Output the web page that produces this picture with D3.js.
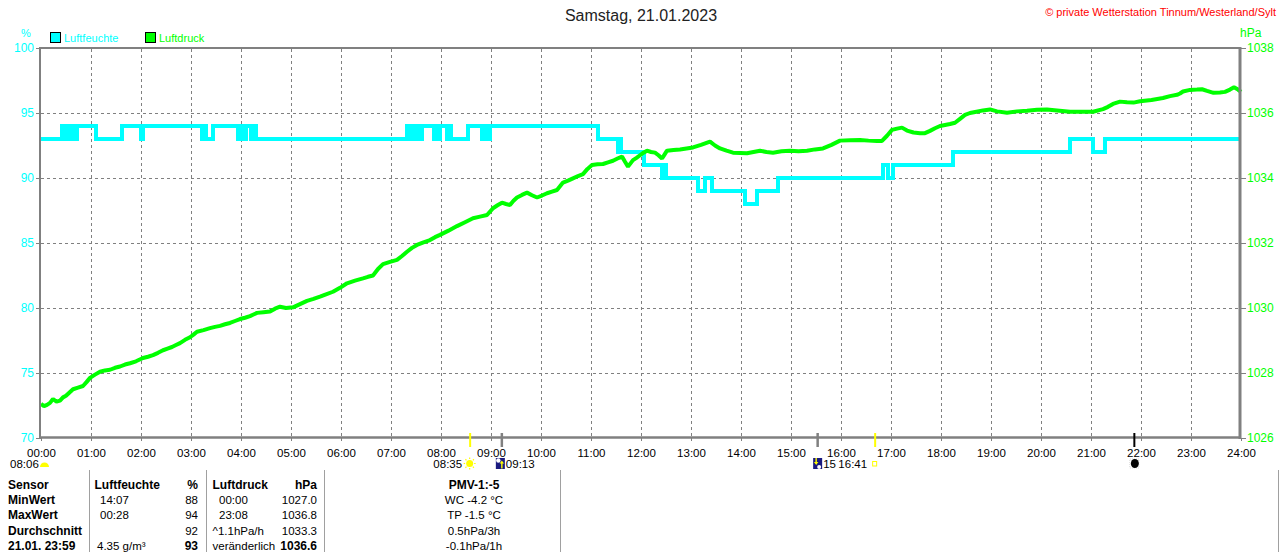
<!DOCTYPE html>
<html><head><meta charset="utf-8">
<script src="https://cdn.jsdelivr.net/npm/d3@7"></script>
<style>
html,body{margin:0;padding:0;background:#fff;}
svg{display:block;font-family:"Liberation Sans",Arial,sans-serif;}
</style></head><body>
<svg id="chart" width="1280" height="552"></svg>
<script>
// ---------- data ----------
const title = "Samstag, 21.01.2023";
const copyright = "© private Wetterstation Tinnum/Westerland/Sylt";
const seriesNames = ["Luftfeuchte", "Luftdruck"];
const seriesUnits = ["%", "hPa"];
const hourTicks = [0,1,2,3,4,5,6,7,8,9,10,11,12,13,14,15,16,17,18,19,20,21,22,23,24];
const hourLabels = ["00:00","01:00","02:00","03:00","04:00","05:00","06:00","07:00","08:00","09:00","10:00","11:00","12:00","13:00","14:00","15:00","16:00","17:00","18:00","19:00","20:00","21:00","22:00","23:00","24:00"];
const humTicks = [70,75,80,85,90,95,100];
const presTicks = [1026,1028,1030,1032,1034,1036,1038];

// Luftfeuchte (%), step values, time in decimal hours
const humTimes = [0,0.42,0.46,0.50,0.54,0.58,0.62,0.66,0.70,0.72,1.10,1.62,2.00,2.04,3.22,3.26,3.30,3.44,3.94,3.98,4.02,4.10,4.20,4.24,4.30,
  7.32,7.35,7.38,7.41,7.44,7.47,7.50,7.58,7.62,7.86,7.90,7.94,7.98,8.12,8.16,8.20,8.54,8.82,8.86,8.90,8.98,
  11.14,11.54,11.57,11.60,11.64,12.06,12.42,12.46,12.50,12.54,13.14,13.28,13.42,13.58,14.08,14.32,14.74,
  16.84,16.94,17.04,18.24,20.58,21.04,21.28,24];
const humValues = [93,94,93,94,93,94,93,94,93,94,93,94,93,94,93,94,93,94,93,94,93,94,93,94,93,
  94,93,94,93,94,93,94,93,94,93,94,93,94,93,94,93,94,93,94,93,94,
  93,92,93,92,92,91,90,91,90,90,89,90,89,89,88,89,90,
  91,90,91,92,93,92,93,93];

// Luftdruck (hPa)
const presTimes = [0,0.06,0.12,0.18,0.24,0.31,0.38,0.44,0.5,0.57,0.64,0.74,0.84,0.91,0.98,1.08,1.18,1.28,1.38,1.48,1.58,1.68,1.78,1.9,2.04,2.14,2.24,2.34,2.44,2.53,2.62,2.7,2.78,2.88,2.98,3.05,3.12,3.25,3.38,3.48,3.58,3.68,3.78,3.88,3.98,4.08,4.18,4.25,4.32,4.45,4.58,4.68,4.78,4.9,5.04,5.18,5.32,5.45,5.58,5.7,5.84,5.98,6.12,6.28,6.44,6.54,6.64,6.74,6.84,6.98,7.12,7.22,7.32,7.42,7.52,7.65,7.78,7.88,7.98,8.15,8.32,8.48,8.64,8.78,8.92,9.04,9.13,9.22,9.3,9.38,9.45,9.52,9.62,9.72,9.82,9.92,10.02,10.12,10.22,10.32,10.44,10.54,10.64,10.74,10.84,10.93,11.02,11.13,11.24,11.34,11.44,11.53,11.62,11.68,11.74,11.79,11.84,11.91,11.98,12.05,12.12,12.2,12.28,12.35,12.42,12.47,12.52,12.65,12.78,12.91,13.04,13.2,13.38,13.48,13.58,13.71,13.84,13.98,14.12,14.25,14.38,14.51,14.64,14.81,14.98,15.15,15.32,15.48,15.64,15.81,15.98,16.18,16.38,16.55,16.72,16.82,16.92,17.02,17.12,17.22,17.32,17.45,17.58,17.68,17.78,17.88,17.98,18.08,18.18,18.28,18.38,18.48,18.58,18.71,18.84,18.98,19.12,19.32,19.52,19.72,19.92,20.12,20.32,20.58,20.84,21.04,21.24,21.34,21.44,21.58,21.72,21.85,21.98,22.21,22.44,22.58,22.72,22.78,22.84,22.98,23.12,23.22,23.32,23.45,23.58,23.68,23.78,23.86,23.94,24];
const presValues = [1027.05,1026.98,1027.02,1027.08,1027.2,1027.12,1027.15,1027.25,1027.3,1027.4,1027.5,1027.55,1027.6,1027.72,1027.85,1027.95,1028.04,1028.08,1028.1,1028.16,1028.2,1028.26,1028.3,1028.36,1028.46,1028.5,1028.55,1028.62,1028.7,1028.75,1028.8,1028.86,1028.92,1029.02,1029.1,1029.18,1029.27,1029.32,1029.38,1029.42,1029.45,1029.5,1029.54,1029.6,1029.66,1029.7,1029.75,1029.8,1029.85,1029.87,1029.89,1029.98,1030.04,1030.0,1030.02,1030.12,1030.22,1030.28,1030.35,1030.42,1030.5,1030.62,1030.76,1030.84,1030.91,1030.96,1031.0,1031.2,1031.35,1031.42,1031.48,1031.6,1031.73,1031.85,1031.94,1032.02,1032.09,1032.18,1032.25,1032.38,1032.52,1032.64,1032.76,1032.81,1032.86,1033.07,1033.16,1033.24,1033.2,1033.17,1033.3,1033.4,1033.48,1033.55,1033.47,1033.4,1033.46,1033.53,1033.58,1033.63,1033.86,1033.92,1033.99,1034.06,1034.12,1034.28,1034.4,1034.42,1034.43,1034.48,1034.53,1034.6,1034.66,1034.5,1034.35,1034.45,1034.55,1034.62,1034.7,1034.78,1034.84,1034.8,1034.78,1034.7,1034.6,1034.72,1034.84,1034.86,1034.88,1034.91,1034.94,1035.02,1035.12,1035.0,1034.91,1034.84,1034.78,1034.77,1034.76,1034.8,1034.84,1034.8,1034.78,1034.82,1034.84,1034.82,1034.84,1034.88,1034.91,1035.02,1035.15,1035.16,1035.17,1035.15,1035.14,1035.14,1035.3,1035.48,1035.52,1035.55,1035.46,1035.4,1035.38,1035.38,1035.45,1035.53,1035.6,1035.63,1035.66,1035.7,1035.82,1035.94,1036.0,1036.04,1036.08,1036.11,1036.05,1036.01,1036.05,1036.07,1036.1,1036.11,1036.08,1036.04,1036.04,1036.04,1036.12,1036.19,1036.28,1036.35,1036.33,1036.32,1036.36,1036.4,1036.46,1036.52,1036.56,1036.6,1036.66,1036.71,1036.72,1036.73,1036.68,1036.62,1036.63,1036.65,1036.72,1036.79,1036.72,1036.65,1036.6];

// astronomical markers
const eventTimes = [8.583, 9.217, 15.533, 16.683, 21.867];
const eventKinds = ["sunrise", "moonrise", "moonset", "sunset", "newmoon"];
const eventLabels = ["08:35", "09:13", "15", "16:41", ""];
const dawnLabel = "08:06";

// bottom table
const tableRow1 = ["Sensor", "Luftfeuchte", "%", "Luftdruck", "hPa", "PMV-1:-5"];
const tableRow2 = ["MinWert", "14:07", "88", "00:00", "1027.0", "WC -4.2 °C"];
const tableRow3 = ["MaxWert", "00:28", "94", "23:08", "1036.8", "TP -1.5 °C"];
const tableRow4 = ["Durchschnitt", "", "92", "^1.1hPa/h", "1033.3", "0.5hPa/3h"];
const tableRow5 = ["21.01. 23:59", "4.35 g/m³", "93", "veränderlich", "1036.6", "-0.1hPa/1h"];

// ---------- drawing ----------
const CYAN = "#00ffff", GREEN = "#00ff00", GRID = "#808080", FRAME = "#808080";
const svg = d3.select("#chart");
svg.append("rect").attr("width",1280).attr("height",552).attr("fill","#fff");

const x = d3.scaleLinear().domain([0,24]).range([41,1241]);
const yL = d3.scaleLinear().domain([70,100]).range([438,48]);
const yR = d3.scaleLinear().domain([1026,1038]).range([438,48]);

// grid
const grid = svg.append("g");
grid.selectAll("line.v").data(hourTicks.slice(1,-1)).join("line")
  .attr("x1", d=>x(d)+0.5).attr("x2", d=>x(d)+0.5).attr("y1",49).attr("y2",437)
  .attr("stroke",GRID).attr("stroke-width",1).attr("stroke-dasharray","3,3");
grid.selectAll("line.h").data(humTicks.slice(1,-1)).join("line")
  .attr("x1",41).attr("x2",1240).attr("y1", d=>yL(d)+0.5).attr("y2", d=>yL(d)+0.5)
  .attr("stroke",GRID).attr("stroke-width",1).attr("stroke-dasharray","3,3");

// axes
const axL = svg.append("g").attr("transform","translate(40,0)")
  .call(d3.axisLeft(yL).tickValues(humTicks).tickFormat(d3.format("d")).tickSize(4).tickPadding(2));
axL.select(".domain").remove();
axL.selectAll("line").attr("stroke",GRID);
axL.selectAll("text").attr("fill",CYAN).attr("font-size",12).attr("font-family","Liberation Sans, Arial");

const axR = svg.append("g").attr("transform","translate(1241,0)")
  .call(d3.axisRight(yR).tickValues(presTicks).tickFormat(d3.format("d")).tickSize(5).tickPadding(1));
axR.select(".domain").remove();
axR.selectAll("line").attr("stroke",GRID);
axR.selectAll("text").attr("fill",GREEN).attr("font-size",12).attr("font-family","Liberation Sans, Arial");

const axB = svg.append("g").attr("transform","translate(0,438)")
  .call(d3.axisBottom(x).tickValues(hourTicks).tickFormat((d,i)=>hourLabels[i]).tickSize(3).tickPadding(8));
axB.select(".domain").remove();
axB.selectAll("line").attr("stroke",GRID);
axB.selectAll("text").attr("fill","#000").attr("font-size",11.5).attr("font-family","Liberation Sans, Arial");

// series
const humData = humTimes.map((t,i)=>[t, humValues[i]]);
const presData = presTimes.map((t,i)=>[t, presValues[i]]);
svg.append("path").datum(humData)
  .attr("d", d3.line().x(d=>x(d[0])).y(d=>yL(d[1])).curve(d3.curveStepAfter))
  .attr("fill","none").attr("stroke",CYAN).attr("stroke-width",4);
svg.append("path").datum(presData)
  .attr("d", d3.line().x(d=>x(d[0])).y(d=>yR(d[1])))
  .attr("fill","none").attr("stroke",GREEN).attr("stroke-width",4).attr("stroke-linejoin","bevel");

// frame
svg.append("line").attr("x1",40).attr("x2",40).attr("y1",47).attr("y2",439).attr("stroke",FRAME).attr("stroke-width",2);
svg.append("line").attr("x1",40).attr("x2",1241).attr("y1",48).attr("y2",48).attr("stroke",FRAME).attr("stroke-width",2);
svg.append("line").attr("x1",1240).attr("x2",1240).attr("y1",47).attr("y2",439).attr("stroke",FRAME).attr("stroke-width",3);
svg.append("line").attr("x1",40).attr("x2",1241).attr("y1",437.5).attr("y2",437.5).attr("stroke",FRAME).attr("stroke-width",2.5);

// titles
svg.append("text").attr("x",641).attr("y",21).attr("text-anchor","middle")
  .attr("font-size",16).attr("fill","#222").text(title);
svg.append("text").attr("x",1276).attr("y",16).attr("text-anchor","end")
  .attr("font-size",11).attr("fill","#ff0000").text(copyright);
svg.append("text").attr("x",26).attr("y",37).attr("text-anchor","middle")
  .attr("font-size",11).attr("fill",CYAN).text(seriesUnits[0]);
svg.append("text").attr("x",1240).attr("y",37)
  .attr("font-size",12).attr("fill",GREEN).text(seriesUnits[1]);

// legend
const legendX = [50, 145];
const legendColors = [CYAN, GREEN];
seriesNames.forEach((n,i)=>{
  svg.append("rect").attr("x",legendX[i]+0.5).attr("y",32.5).attr("width",10).attr("height",10)
    .attr("fill",legendColors[i]).attr("stroke","#000").attr("stroke-width",1);
  svg.append("text").attr("x",legendX[i]+14).attr("y",42).attr("font-size",11)
    .attr("fill",legendColors[i]).text(n);
});

// event markers
const ev = svg.append("g");
ev.append("text").attr("x",10).attr("y",468).attr("font-size",11.5).attr("fill","#000").text(dawnLabel);
ev.append("path").attr("d","M40,467 A4.5,4.5 0 0 1 49,467 Z").attr("fill","#ffff00");
eventTimes.forEach((t,i)=>{
  const k = eventKinds[i], px = x(t);
  const tickCol = (k==="sunrise"||k==="sunset") ? "#ffff00" : (k==="newmoon" ? "#000" : GRID);
  ev.append("line").attr("x1",px).attr("x2",px).attr("y1",433).attr("y2",447)
    .attr("stroke",tickCol).attr("stroke-width", tickCol===GRID ? 2.5 : 2);
  if (k==="sunrise") {
    ev.append("text").attr("x",px-8).attr("y",468).attr("text-anchor","end").attr("font-size",11.5).text(eventLabels[i]);
    const g = ev.append("g").attr("transform",`translate(${px-0.5},463.5)`);
    g.append("circle").attr("r",3.5).attr("fill","#ffff00");
    d3.range(8).forEach(j=>{
      const a = j*Math.PI/4;
      g.append("line").attr("x1",Math.cos(a)*4.5).attr("y1",Math.sin(a)*4.5)
        .attr("x2",Math.cos(a)*6).attr("y2",Math.sin(a)*6).attr("stroke","#ffff00").attr("stroke-width",1.2);
    });
  } else if (k==="moonrise" || k==="moonset") {
    const rx = k==="moonrise" ? px-6 : px-4.5;
    ev.append("rect").attr("x",rx).attr("y",458).attr("width",9).attr("height",11).attr("fill","#1a1a80");
    if (k==="moonrise") {
      ev.append("circle").attr("cx",rx+2.5).attr("cy",460.5).attr("r",2.2).attr("fill","#fff");
      ev.append("path").attr("d",`M${rx+6},460.5 l-2.2,3 h1.5 v5 h1.4 v-5 h1.5 Z`).attr("fill","#ffff00");
    } else {
      ev.append("circle").attr("cx",rx+6).attr("cy",467).attr("r",2).attr("fill","#fff");
      ev.append("path").attr("d",`M${rx+3},465 l-2.2,-3 h1.5 v-4 h1.4 v4 h1.5 Z`).attr("fill","#ffff00");
    }
    ev.append("text").attr("x",rx+10).attr("y",468).attr("font-size",11.5).text(eventLabels[i]);
  } else if (k==="sunset") {
    ev.append("text").attr("x",px-8).attr("y",468).attr("text-anchor","end").attr("font-size",11.5).text(eventLabels[i]);
    ev.append("rect").attr("x",px-2.5).attr("y",461.5).attr("width",4).attr("height",4.5)
      .attr("fill","none").attr("stroke","#ffff00").attr("stroke-width",1);
  } else if (k==="newmoon") {
    ev.append("rect").attr("x",px-4.5).attr("y",459).attr("width",9).attr("height",9)
      .attr("fill","none").attr("stroke","#bbb").attr("stroke-width",0.6).attr("stroke-dasharray","1,1");
    ev.append("ellipse").attr("cx",px+0.5).attr("cy",463.5).attr("rx",4).attr("ry",4.6).attr("fill","#000");
  }
});

// table
const tbl = svg.append("g").attr("font-size",11.5).attr("fill","#000");
[89.5, 206.5, 324.5, 560.5, 1278.5].forEach(sx=>{
  tbl.append("line").attr("x1",sx).attr("x2",sx).attr("y1",470).attr("y2",552)
    .attr("stroke","#a0a0a0").attr("stroke-width",1);
});
const rows = [tableRow1, tableRow2, tableRow3, tableRow4, tableRow5];
const colX = [8, 98, 198, 212, 317, 474];
const colAnchor = ["start","start","end","start","end","middle"];
rows.forEach((r,ri)=>{
  const yb = 488.5 + ri*15.4;
  r.forEach((txt,ci)=>{
    let xx = colX[ci];
    if (ci===1) xx = ri===0 ? 94.5 : (ri===4 ? 97 : 100);
    if (ci===3) xx = (ri===0 || ri>=3) ? 212.5 : 219;
    const bold = ri===0 || ci===0 || (ri===4 && (ci===2 || ci===4));
    tbl.append("text").attr("x",xx).attr("y",yb).attr("text-anchor",colAnchor[ci])
      .attr("font-size", bold ? 12 : 11.5).attr("font-weight", bold ? "bold" : "normal").text(txt);
  });
});
</script>
</body></html>
